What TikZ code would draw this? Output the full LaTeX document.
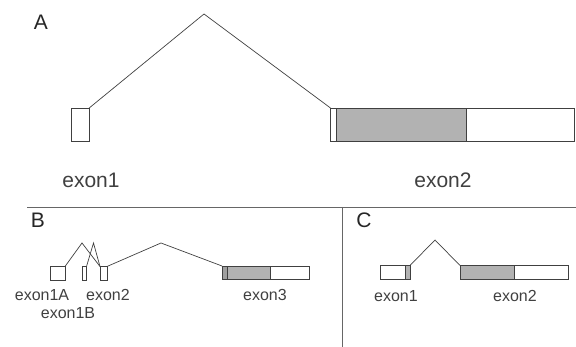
\documentclass[tikz,border=0pt]{standalone}
\usepackage{fontspec}
\setmainfont{Liberation Sans}
\usetikzlibrary{positioning}

\begin{document}
\begin{tikzpicture}[
  x=1pt, y=-1pt,
  every node/.style={inner sep=0pt, outer sep=0pt},
  exon/.style={draw=black!75, fill=white, line width=0.7pt, anchor=north west},
  cds/.style={exon, fill=gray!60},
  intron/.style={draw=black!75, line width=0.7pt},
  rule/.style={draw=black!60, line width=0.9pt},
  panel/.style={text=black!85, font=\fontsize{21}{21}\selectfont},
  biglabel/.style={text=black!75, font=\fontsize{21}{21}\selectfont},
  smalllabel/.style={text=black!75, font=\fontsize{16}{16}\selectfont}
]
  \useasboundingbox (0,0) rectangle (576,347);

  % panel A
  \node[panel] (pa) at (41,22) {A};
  \node[exon, minimum width=17.6pt, minimum height=33pt] (aex1) at (71.6,108) {};
  \node[exon, minimum width=5.5pt, minimum height=33pt] (aex2u) at (330.5,108) {};
  \node[cds, minimum width=130.5pt, minimum height=33pt, right=0pt of aex2u] (aex2c) {};
  \node[exon, minimum width=107.5pt, minimum height=33pt, right=0pt of aex2c] (aex2d) {};
  \coordinate (aint1) at (204,14);
  \draw[intron] (aex1.north east) -- (aint1) -- (aex2u.north west);
  \node[biglabel] (aex1l) at (91,180) {exon1};
  \node[biglabel] (aex2l) at (443,180) {exon2};

  % dividers
  \coordinate (hl) at (27,207);
  \coordinate (hr) at (576,207);
  \coordinate (vt) at (342,207);
  \coordinate (vb) at (342,347);
  \draw[rule] (hl) -- (hr);
  \draw[rule] (vt) -- (vb);

  % panel B
  \node[panel] (pb) at (38,220) {B};
  \node[exon, minimum width=15pt, minimum height=13.5pt] (bex1a) at (50,266.5) {};
  \node[exon, minimum width=4pt, minimum height=13.5pt] (bex1b) at (82.5,266.5) {};
  \node[exon, minimum width=7pt, minimum height=13.5pt] (bex2) at (100,266.5) {};
  \node[cds, fill=gray!75, minimum width=5pt, minimum height=13.5pt] (bex3u) at (222,266) {};
  \node[cds, minimum width=43pt, minimum height=13.5pt, right=0pt of bex3u] (bex3c) {};
  \node[exon, minimum width=39pt, minimum height=13.5pt, right=0pt of bex3c] (bex3d) {};
  \coordinate (bint1) at (82,243);
  \coordinate (bint2) at (93.5,243);
  \coordinate (bint3) at (161,243);
  \draw[intron] (bex1a.north east) -- (bint1) -- (bex2.north west);
  \draw[intron] (bex1b.north east) -- (bint2) -- (bex2.north west);
  \draw[intron] (bex2.north east) -- (bint3) -- (bex3u.north west);
  \node[smalllabel] (bex1al) at (42,295) {exon1A};
  \node[smalllabel] (bex1bl) at (68,313) {exon1B};
  \node[smalllabel] (bex2l) at (108,295) {exon2};
  \node[smalllabel] (bex3l) at (265,295) {exon3};

  % panel C
  \node[panel] (pc) at (364,220) {C};
  \node[exon, minimum width=25pt, minimum height=13.5pt] (cex1u) at (380,265.5) {};
  \node[cds, minimum width=5pt, minimum height=13.5pt, right=0pt of cex1u] (cex1c) {};
  \node[cds, minimum width=54pt, minimum height=13.5pt] (cex2c) at (460,265.5) {};
  \node[exon, minimum width=54pt, minimum height=13.5pt, right=0pt of cex2c] (cex2d) {};
  \coordinate (cint1) at (435,240);
  \draw[intron] (cex1c.north east) -- (cint1) -- (cex2c.north west);
  \node[smalllabel] (cex1l) at (396,296) {exon1};
  \node[smalllabel] (cex2l) at (515,296) {exon2};
\end{tikzpicture}
\end{document}
